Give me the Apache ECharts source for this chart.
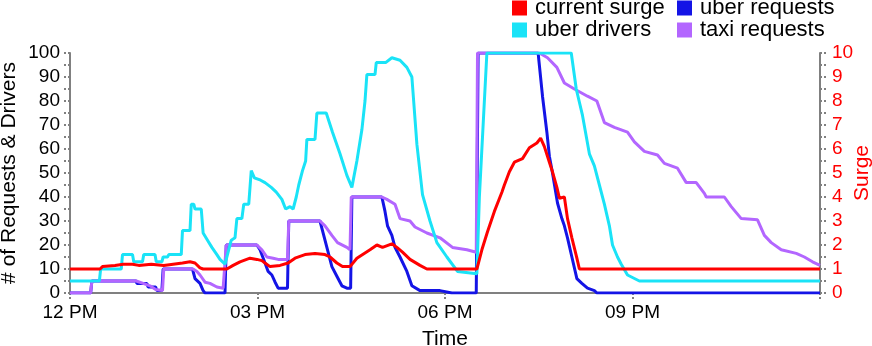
<!DOCTYPE html>
<html>
<head>
<meta charset="utf-8">
<script src="https://cdn.jsdelivr.net/npm/echarts@6/dist/echarts.min.js"></script>
<style>
html,body{margin:0;padding:0;background:#fff;}
#chart{width:872px;height:346px;}
</style>
</head>
<body>
<div id="chart"></div>
<script>
// x values: hours after 12 PM
const xTickValues = [0, 3, 6, 9, 12];
const xTickLabels = ['12 PM', '03 PM', '06 PM', '09 PM', ''];

const surgeT = [0,0.48,0.52,0.72,0.85,1.0,1.1,1.3,1.5,1.65,1.8,1.92,1.95,2.0,2.08,2.13,2.51,2.61,2.72,2.88,2.99,3.07,3.12,3.20,3.36,3.49,3.60,3.76,3.92,4.08,4.16,4.27,4.36,4.48,4.51,4.59,4.80,4.91,5.0,5.15,5.23,5.32,5.44,5.60,5.71,6.51,6.59,6.68,6.79,6.91,6.95,7.03,7.11,7.24,7.35,7.47,7.53,7.59,7.67,7.72,7.79,7.83,7.91,7.96,8.03,8.11,8.15,12];
const surgeV = [1.0,1.0,1.1,1.15,1.2,1.2,1.15,1.2,1.15,1.2,1.25,1.3,1.37,1.25,1.05,1.0,1.0,1.15,1.3,1.45,1.4,1.35,1.25,1.1,1.15,1.25,1.45,1.6,1.65,1.6,1.5,1.25,1.1,1.1,1.15,1.45,1.8,2.0,1.9,2.05,1.9,1.7,1.4,1.15,1.0,1.0,1.8,2.55,3.4,4.2,4.5,5.05,5.45,5.6,6.05,6.25,6.45,6.1,5.45,5.05,4.4,3.95,4.0,3.1,2.3,1.45,1.0,1.0];

const uberReqT = [0,0.33,0.35,1.06,1.07,1.23,1.25,1.37,1.39,1.47,1.49,1.96,2.0,2.08,2.13,2.16,2.48,2.50,2.99,3.04,3.12,3.17,3.23,3.28,3.33,3.48,3.50,4.0,4.04,4.11,4.19,4.27,4.35,4.43,4.49,4.51,4.99,5.04,5.08,5.15,5.20,5.28,5.39,5.47,5.60,5.92,6.11,6.50,6.53,7.49,7.56,7.63,7.67,7.72,7.80,7.87,7.91,7.96,8.03,8.11,8.19,8.28,8.39,8.43,12];
const uberReqV = [0,0,5,5,4,4,2.5,2.5,1,1,10,10,6,4,1,0,0,20,20,18,12.5,9,7.5,4.6,2,2,30,30,26,19,11,7,3,2,2,40,40,34,28,24,19,15,9,3,1,1,0,0,100,100,82,67,57,50,37.5,31,28,23,15,6,4,2,1,0,0];

const driversT = [0,0.47,0.49,0.82,0.84,1.0,1.02,1.16,1.18,1.36,1.38,1.47,1.49,1.56,1.58,1.78,1.80,1.92,1.94,1.98,2.0,2.10,2.13,2.20,2.27,2.35,2.40,2.48,2.53,2.58,2.64,2.67,2.75,2.78,2.86,2.90,2.95,3.05,3.12,3.22,3.30,3.39,3.45,3.52,3.57,3.62,3.66,3.72,3.77,3.79,3.92,3.95,4.10,4.20,4.32,4.43,4.51,4.59,4.67,4.72,4.75,4.88,4.90,5.05,5.15,5.28,5.39,5.47,5.55,5.64,5.76,5.87,6.03,6.20,6.51,6.55,6.67,8.02,8.10,8.20,8.31,8.39,8.47,8.55,8.63,8.68,8.76,8.82,8.92,9.11,12];
const driversV = [5,5,10,10,16,16,13,13,16,16,13,13,15,15,16,16,26,26,37,37,35,35,25,22,19,16,14,12,17,22,23,31,31,37,37,51,48,47,46,44,42,39,35,36,35,40,45,51,55,64,64,75,75,67,58,49,44,55,68,80,91,91,96,96,98,97,94,90,62,41,30,21,15,9,8,40,100,100,85,74,58,53,45,37,28,20,15,12,7.5,5,5];

const taxiT = [0,0.33,0.35,1.06,1.17,1.28,1.37,1.39,1.48,1.50,1.97,2.03,2.08,2.16,2.24,2.35,2.45,2.48,2.50,2.99,3.07,3.15,3.25,3.33,3.48,3.50,4.0,4.08,4.19,4.28,4.43,4.48,4.50,4.99,5.07,5.20,5.28,5.44,5.52,5.71,5.92,6.12,6.35,6.50,6.52,7.51,7.64,7.79,7.91,8.07,8.28,8.43,8.55,8.71,8.92,9.03,9.19,9.40,9.51,9.72,9.86,10.02,10.15,10.18,10.47,10.58,10.74,11.0,11.11,11.22,11.38,11.62,11.75,11.88,12];
const taxiV = [0,0,5,5,4,3,1.5,1,1,10,10,9,7.5,4.5,4,2.5,2,2,20,20,18,15,14.5,14,14,30,30,28,24,21,19,18,40,40,39,37,31,30,27.5,25,23,19,18,17,100,100,98,94,87.5,85,82,80,71,69,67,63,59,57.5,54,52,46,46,41.5,40,40,36,31,30.5,24,21,18,16.5,15,13,11.5];

function pairs(t, v){ return t.map((x,i)=>[x, v[i]]); }

const FONT = '"Liberation Sans", Arial, sans-serif';
const AXIS_GRAY = '#808080';
const C_SURGE = '#ff0000', C_UBER = '#1414e6', C_DRIVERS = '#1ae3f7', C_TAXI = '#b366ff';

const chart = echarts.init(document.getElementById('chart'), null, {renderer:'canvas'});
const tickCommon = {show:true, inside:false, length:6, lineStyle:{color:AXIS_GRAY, width:2, type:'dotted'}};
const legendText = {fontFamily:FONT, fontSize:22, color:'#000', lineHeight:22, padding:[0,0,0,3]};
chart.setOption({
  animation:false,
  backgroundColor:'#fff',
  textStyle:{fontFamily:FONT},
  grid:{left:70, right:52, top:53, bottom:53, containLabel:false, outerBoundsMode:'none'},
  legend:[
    {left:512, top:-3, padding:0, orient:'vertical', itemWidth:15, itemHeight:15, itemGap:0, icon:'rect',
     data:['current surge','uber drivers'], textStyle:legendText},
    {left:677, top:-3, padding:0, orient:'vertical', itemWidth:15, itemHeight:15, itemGap:0, icon:'rect',
     data:['uber requests','taxi requests'], textStyle:legendText}
  ],
  xAxis:{
    type:'value', min:0, max:12, interval:3,
    name:'Time', nameLocation:'middle', nameGap:36, nameMoveOverlap:false,
    nameTextStyle:{fontFamily:FONT, fontSize:21, color:'#000'},
    axisLine:{show:true, lineStyle:{color:AXIS_GRAY, width:2}},
    axisTick:tickCommon,
    splitLine:{show:false},
    axisLabel:{fontFamily:FONT, fontSize:19, color:'#000', margin:10,
      formatter:function(v){ const i = xTickValues.indexOf(v); return i>=0 ? xTickLabels[i] : ''; }}
  },
  yAxis:[
    {type:'value', min:0, max:100, interval:10, position:'left',
     name:'# of Requests & Drivers', nameLocation:'middle', nameGap:50, nameRotate:90, nameMoveOverlap:false,
     nameTextStyle:{fontFamily:FONT, fontSize:21, color:'#000'},
     axisLine:{show:true, lineStyle:{color:AXIS_GRAY, width:2}},
     axisTick:tickCommon,
     minorTick:{show:true, splitNumber:2, length:6, lineStyle:{color:AXIS_GRAY, width:2, type:'dotted'}},
     splitLine:{show:false},
     axisLabel:{fontFamily:FONT, fontSize:19, color:'#000', margin:10}},
    {type:'value', min:0, max:10, interval:1, position:'right',
     name:'Surge', nameLocation:'middle', nameGap:32, nameRotate:90, nameMoveOverlap:false,
     nameTextStyle:{fontFamily:FONT, fontSize:21, color:C_SURGE},
     axisLine:{show:true, lineStyle:{color:AXIS_GRAY, width:2}},
     axisTick:tickCommon,
     minorTick:{show:true, splitNumber:2, length:6, lineStyle:{color:AXIS_GRAY, width:2, type:'dotted'}},
     splitLine:{show:false},
     axisLabel:{fontFamily:FONT, fontSize:19, color:C_SURGE, margin:12}}
  ],
  series:[
    {name:'uber requests', type:'line', yAxisIndex:0, showSymbol:false, data:pairs(uberReqT, uberReqV),
     lineStyle:{color:C_UBER, width:3}, itemStyle:{color:C_UBER}, z:2},
    {name:'taxi requests', type:'line', yAxisIndex:0, showSymbol:false, data:pairs(taxiT, taxiV),
     lineStyle:{color:C_TAXI, width:3}, itemStyle:{color:C_TAXI}, z:3},
    {name:'uber drivers', type:'line', yAxisIndex:0, showSymbol:false, data:pairs(driversT, driversV),
     lineStyle:{color:C_DRIVERS, width:3}, itemStyle:{color:C_DRIVERS}, z:4},
    {name:'current surge', type:'line', yAxisIndex:1, showSymbol:false, data:pairs(surgeT, surgeV),
     lineStyle:{color:C_SURGE, width:3}, itemStyle:{color:C_SURGE}, z:5}
  ]
});
</script>
</body>
</html>
